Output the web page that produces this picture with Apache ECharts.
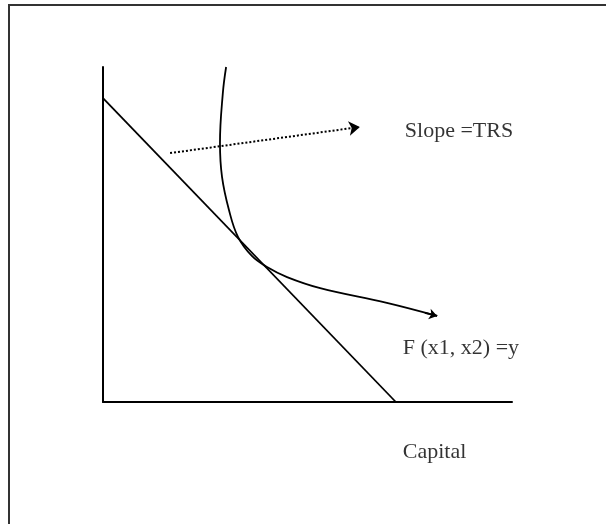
<!DOCTYPE html>
<html><head><meta charset="utf-8">
<script src="https://cdn.jsdelivr.net/npm/echarts@6/dist/echarts.min.js"></script>
<style>html,body{margin:0;padding:0;background:#fff}#c{width:606px;height:524px}</style>
</head><body><div id="c"></div>
<script>
// Coordinates in abstract diagram units (x: capital, y: labour)
const xRange = [0, 10];
const yRange = [0, 10];
const budgetLine = [[0, 9.07], [7.16, 0]];
const isoquant = [
  [3.01, 10.0], [2.93, 9.22], [2.86, 7.73], [2.91, 6.72], [3.08, 5.73],
  [3.30, 4.93], [3.64, 4.36], [4.01, 4.03], [4.50, 3.73], [5.31, 3.40],
  [6.94, 2.96], [8.17, 2.57]
];
const isoquantArrow = [[7.87, 2.66], [8.17, 2.57]];
const slopeArrow = [[1.64, 7.43], [6.28, 8.21]];
const labelTexts = ['Slope =TRS', 'F (x1, x2) =y', 'Capital'];
const labelAnchors = [[7.38, 8.09], [7.33, 1.61], [7.33, -1.49]];

const chart = echarts.init(document.getElementById('c'), null, {renderer: 'canvas'});
const axisCommon = {
  type: 'value', axisTick: {show: false}, axisLabel: {show: false},
  splitLine: {show: false},
  axisLine: {show: true, onZero: false, lineStyle: {color: '#000', width: 2}}
};
chart.setOption({
  animation: false,
  backgroundColor: '#fff',
  grid: {left: 103, top: 67, width: 409, height: 335, containLabel: false},
  xAxis: Object.assign({min: xRange[0], max: xRange[1]}, axisCommon),
  yAxis: Object.assign({min: yRange[0], max: yRange[1]}, axisCommon),
  graphic: [{
    type: 'polyline', silent: true,
    shape: {points: [[9, 524], [9, 5], [606, 5]]},
    style: {stroke: '#333', lineWidth: 2, fill: null}
  }],
  series: [
    {type: 'line', data: budgetLine, symbol: 'none', clip: false,
     lineStyle: {color: '#000', width: 1.8}},
    {type: 'line', data: isoquant, symbol: 'none', smooth: 0.4, clip: false,
     lineStyle: {color: '#000', width: 1.8}},
    {type: 'lines', coordinateSystem: 'cartesian2d', clip: false,
     symbol: ['none', 'arrow'], symbolSize: 8,
     lineStyle: {color: '#000', width: 1.8, opacity: 1},
     data: [{coords: isoquantArrow}]},
    {type: 'lines', coordinateSystem: 'cartesian2d', clip: false,
     symbol: ['none', 'arrow'], symbolSize: 11,
     lineStyle: {color: '#000', width: 2, type: [2, 2], opacity: 1},
     data: [{coords: slopeArrow}]},
    {type: 'scatter', symbolSize: 0, clip: false,
     data: labelAnchors.map((p, i) => ({value: p, name: labelTexts[i]})),
     label: {show: true, position: 'right', distance: 0, formatter: '{b}',
       fontFamily: 'Liberation Serif', fontSize: 22, color: '#000'}}
  ]
});
</script></body></html>
